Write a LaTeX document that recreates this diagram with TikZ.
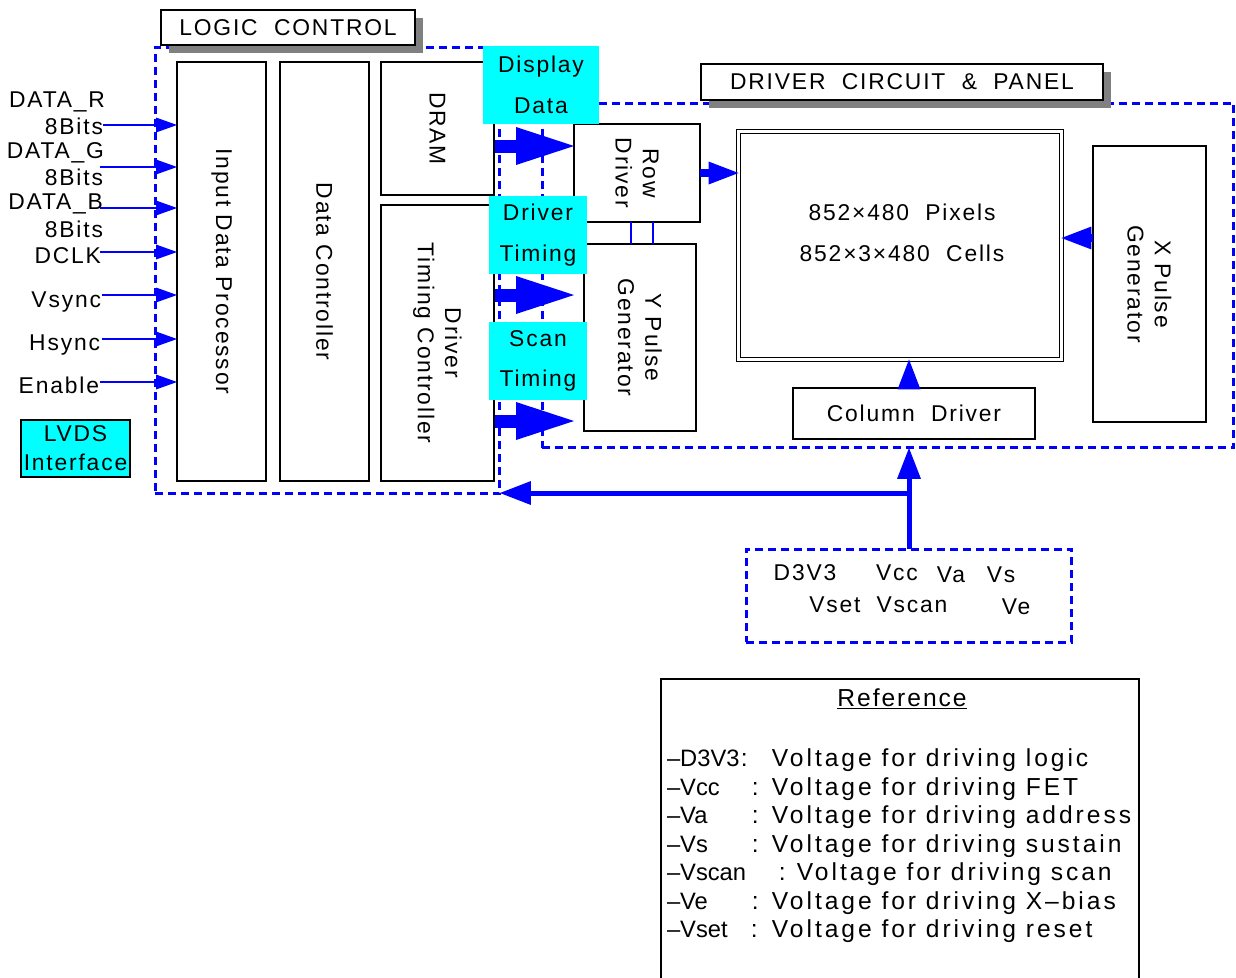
\documentclass[tikz,border=0pt]{standalone}
\usepackage{fontspec}
\setmainfont[LetterSpace=8]{Liberation Sans}
\newfontfamily\legendFont[LetterSpace=12]{Liberation Sans}
\newfontfamily\legendTight{Liberation Sans}
\usepackage{tikz}
\usetikzlibrary{arrows.meta,calc,positioning}
\definecolor{pBlue}{HTML}{0000FF}
\definecolor{pCyan}{HTML}{00FFFF}
\definecolor{pShadow}{HTML}{808080}
% legend row: label, colon position, start of the sentence
\newcommand{\RefRow}[3]{%
  \makebox[#2][l]{\legendTight\fontsize{13.5}{16.2}\selectfont #1}%
  \makebox[\dimexpr#3-#2\relax][l]{:}}
\tikzset{
  pdpFig/.style={
    font=\fontsize{13}{16}\selectfont,
    every node/.style={inner sep=0pt, outer sep=0pt},
    line join=miter,
  },
  block/.style={draw=black, line width=0.04cm, fill=white},
  tagBox/.style={fill=pCyan, align=center,
    font=\fontsize{13}{23.2}\selectfont},
  titleBox/.style={block, line width=0.04cm},
  titleShadow/.style={fill=pShadow},
  area/.style={draw=pBlue, line width=0.06cm,
    dash pattern=on 0.16cm off 0.1cm},
  vText/.style={rotate=-90, align=center,
    font=\fontsize{13}{15.5}\selectfont},
  inFlow/.style={-{Triangle[length=0.42cm, width=0.3cm, line width=0pt]},
    pBlue, line width=0.04cm},
  busFlow/.style={-{Triangle[length=1.16cm, width=0.76cm, line width=0pt]},
    pBlue, line width=0.26cm},
  cellFlow/.style={-{Triangle[length=0.6cm, width=0.46cm, line width=0pt]},
    pBlue, line width=0.16cm},
  powFlow/.style={-{Triangle[length=0.62cm, width=0.48cm, line width=0pt]},
    pBlue, line width=0.1cm},
  tie/.style={pBlue, line width=0.03cm},
}

\begin{document}
\begin{tikzpicture}[pdpFig, x=0.02cm, y=-0.02cm]

% one unit = one pixel of the original sheet, y grows downwards
\clip (0,0) rectangle (1236,977);
\fill[white] (0,0) rectangle (1236,977);

% ============================================================
% Dashed areas: logic control, driver circuit, power supply
% ============================================================
\node[area, minimum width=6.9cm, minimum height=8.94cm]
  (logicArea) at (327.5,270.5) {};
\node[area, minimum width=13.84cm, minimum height=6.9cm]
  (drvArea) at (888,275.5) {};
\node[area, minimum width=6.52cm, minimum height=1.86cm]
  (power) at (909,595.5) {};

% titles with their grey drop shadow
\node[titleShadow, minimum width=5.08cm, minimum height=0.7cm]
  (logicShadow) at (296,35.5) {};
\node[titleBox, minimum width=5.08cm, minimum height=0.7cm]
  (logicTitle) at (288,27.5) {LOGIC\ \ CONTROL};
\node[titleShadow, minimum width=8.04cm, minimum height=0.72cm]
  (drvShadow) at (910,90) {};
\node[titleBox, minimum width=8.04cm, minimum height=0.72cm]
  (drvTitle) at (902,82) {DRIVER\ \ CIRCUIT\ \ \&\ \ PANEL};

% ============================================================
% Logic control blocks
% ============================================================
\node[block, minimum width=1.78cm, minimum height=8.38cm]
  (inProc) at (221.5,271.5) {};
\node[vText] (inProcTxt) at (inProc.center) {Input Data Processor};
\node[block, minimum width=1.78cm, minimum height=8.38cm]
  (dataCtl) at (324.5,271.5) {};
\node[vText] (dataCtlTxt) at (dataCtl.center) {Data Controller};
\node[block, minimum width=2.26cm, minimum height=2.66cm]
  (dram) at (437.5,128.5) {};
\node[vText] (dramTxt) at (dram.center) {DRAM};
\node[block, minimum width=2.26cm, minimum height=5.52cm]
  (drvTiming) at (437.5,343) {};
\node[vText] (drvTimingTxt) at (drvTiming.center) {Driver\\Timing Controller};

\node[block, fill=pCyan, minimum width=2.18cm, minimum height=1.14cm,
      align=center, font=\fontsize{13}{16.4}\selectfont]
  (lvds) at (75.5,448.5) {LVDS\\Interface};

% ============================================================
% Driver circuit & panel blocks
% ============================================================
\node[block, minimum width=2.52cm, minimum height=1.96cm]
  (rowDrv) at (637,173) {};
\node[vText] (rowDrvTxt) at (rowDrv.center) {Row\\Driver};
\node[block, minimum width=2.24cm, minimum height=3.74cm]
  (yPulse) at (640,337.5) {};
\node[vText] (yPulseTxt) at (yPulse.center) {Y Pulse\\Generator};

\node[draw=black, fill=white, line width=0.02cm, double, double distance=0.06cm,
      minimum width=6.46cm, minimum height=4.56cm]
  (panel) at (900,245.5) {};
\node[align=center, font=\fontsize{13}{23.2}\selectfont]
  (panelTxt) at (902,232.5) {852×480\ \ Pixels\\852×3×480\ \ Cells};

\node[block, minimum width=2.26cm, minimum height=5.52cm]
  (xPulse) at (1149.5,284) {};
\node[vText] (xPulseTxt) at (xPulse.center) {X Pulse\\Generator};
\node[block, minimum width=4.84cm, minimum height=1.02cm]
  (colDrv) at (914,413.5) {Column\ \ Driver};

% ============================================================
% Input signals
% ============================================================
\node[anchor=east] (lblR)   at (105,102) {DATA\_R};
\node[anchor=east] (bitsR)  at (103,126) {8Bits};
\node[anchor=east] (lblG)   at (104,153) {DATA\_G};
\node[anchor=east] (bitsG)  at (103,177) {8Bits};
\node[anchor=east] (lblB)   at (103,204) {DATA\_B};
\node[anchor=east] (bitsB)  at (103,229) {8Bits};
\node[anchor=east] (lblClk) at (101,256) {DCLK};
\node[anchor=east] (lblVs)  at (101,302) {Vsync};
\node[anchor=east] (lblHs)  at (100,345) {Hsync};
\node[anchor=east] (lblEn)  at (99,385)  {Enable};

\coordinate (inR)   at (103,125);
\coordinate (inG)   at (100,167);
\coordinate (inB)   at (100,208);
\coordinate (inClk) at (100,252);
\coordinate (inVs)  at (102,295);
\coordinate (inHs)  at (102,339);
\coordinate (inEn)  at (100,382);
\draw[inFlow] (inR)   -- (inR -| inProc.west);
\draw[inFlow] (inG)   -- (inG -| inProc.west);
\draw[inFlow] (inB)   -- (inB -| inProc.west);
\draw[inFlow] (inClk) -- (inClk -| inProc.west);
\draw[inFlow] (inVs)  -- (inVs -| inProc.west);
\draw[inFlow] (inHs)  -- (inHs -| inProc.west);
\draw[inFlow] (inEn)  -- (inEn -| inProc.west);

% ============================================================
% Bus arrows from logic control into the drivers
% ============================================================
\coordinate (busData) at (495,146);
\coordinate (busDrv)  at (495,295);
\coordinate (busScan) at (495,421);
\draw[busFlow] (busData) -- (busData -| rowDrv.west);
\draw[busFlow, shorten >=0.2cm] (busDrv)  -- (busDrv -| yPulse.west);
\draw[busFlow, shorten >=0.2cm] (busScan) -- (busScan -| yPulse.west);

% cyan tags sit over the bus arrows and the dashed borders
\node[tagBox, minimum width=2.32cm, minimum height=1.56cm]
  (dispTag) at (541,85) {Display\\Data};
\node[tagBox, minimum width=1.96cm, minimum height=1.56cm]
  (drvTag) at (538,235) {Driver\\Timing};
\node[tagBox, minimum width=1.96cm, minimum height=1.56cm]
  (scanTag) at (538,361) {Scan\\Timing};

% row driver / Y pulse generator ties
\draw[tie] ($(rowDrv.south)+(-6,0)$) -- ($(yPulse.north -| rowDrv.south)+(-6,0)$);
\draw[tie] ($(rowDrv.south)+(16,0)$) -- ($(yPulse.north -| rowDrv.south)+(16,0)$);

% drivers into the panel
\draw[cellFlow] (rowDrv.east) -- (rowDrv.east -| panel.west);
\coordinate (xArr) at ($(xPulse.west)+(0,-46)$);
\draw[cellFlow] (xArr) -- (xArr -| panel.east);
\coordinate (colArr) at (909,388);
\draw[cellFlow] (colArr) -- (colArr |- panel.south);

% ============================================================
% Power supply and its feeds
% ============================================================
\node (pwD3V3)  at (805,573) {D3V3};
\node (pwVcc)   at (897,573) {Vcc};
\node (pwVa)    at (951,575) {Va};
\node (pwVs)    at (1001,575) {Vs};
\node (pwVset)  at (835,605) {Vset};
\node (pwVscan) at (912,605) {Vscan};
\node (pwVe)    at (1016,607) {Ve};

\coordinate (pwrSplit) at (power.north |- 0,493);
\draw[powFlow] (power.north) -- (power.north |- drvArea.south);
\draw[powFlow] (pwrSplit) -- (pwrSplit -| logicArea.east);

% ============================================================
% Reference legend (runs off the bottom of the sheet)
% ============================================================
\node[draw=black, line width=0.04cm, minimum width=9.56cm, minimum height=6.44cm]
  (refBox) at (900,840) {};
\node[font=\fontsize{14}{16}\selectfont] (refHead) at (902,699) {\underline{Reference}};
\node[anchor=west, align=left, font=\legendFont\fontsize{14}{16.2}\selectfont]
  (refText) at (667,846) {%
  \RefRow{–D3V3}{1.48cm}{2.10cm}Voltage for driving logic\\
  \RefRow{–Vcc}{1.70cm}{2.10cm}Voltage for driving FET\\
  \RefRow{–Va}{1.70cm}{2.10cm}Voltage for driving address\\
  \RefRow{–Vs}{1.70cm}{2.10cm}Voltage for driving sustain\\
  \RefRow{–Vscan}{2.24cm}{2.60cm}Voltage for driving scan\\
  \RefRow{–Ve}{1.70cm}{2.10cm}Voltage for driving X–bias\\
  \RefRow{–Vset}{1.68cm}{2.10cm}Voltage for driving reset};

\end{tikzpicture}
\end{document}
